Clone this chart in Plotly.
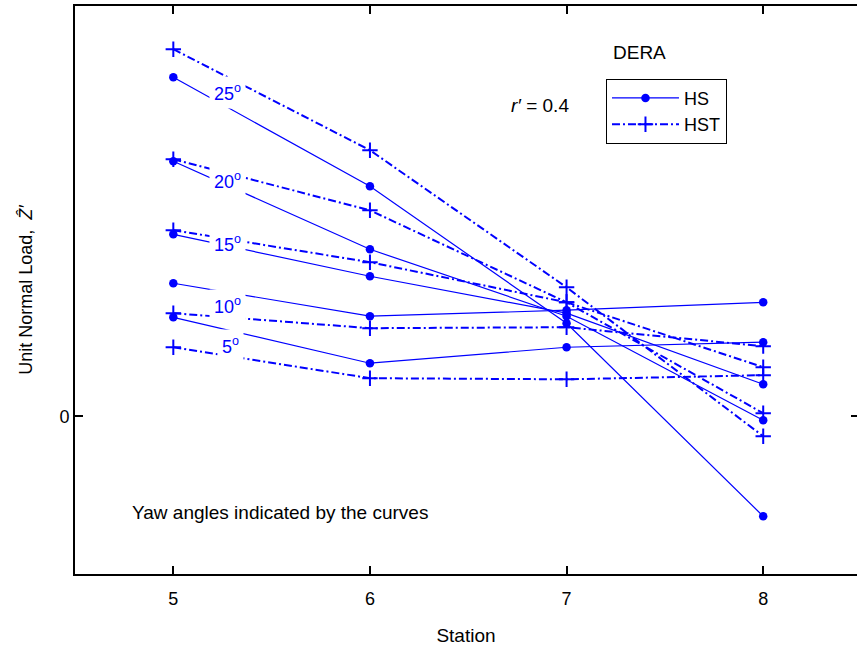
import plotly.graph_objects as go

stations = [5, 6, 7, 8]
angles = [25, 20, 15, 10, 5]

hs_25 = [2.148, 1.458, 0.589, -0.634]
hs_20 = [1.616, 1.058, 0.634, -0.025]
hs_15 = [1.153, 0.887, 0.653, 0.203]
hs_10 = [0.843, 0.634, 0.672, 0.722]
hs_5 = [0.627, 0.336, 0.437, 0.469]

hst_25 = [2.326, 1.686, 0.817, -0.127]
hst_20 = [1.629, 1.305, 0.722, 0.019]
hst_15 = [1.179, 0.976, 0.722, 0.311]
hst_10 = [0.653, 0.558, 0.564, 0.444]
hst_5 = [0.437, 0.241, 0.234, 0.260]

hs_series = [hs_25, hs_20, hs_15, hs_10, hs_5]
hst_series = [hst_25, hst_20, hst_15, hst_10, hst_5]

# label anchor positions for yaw-angle annotations (layout only)
label_pos = [(5.278, 2.053), (5.278, 1.496), (5.273, 1.096), (5.273, 0.703), (5.293, 0.450)]

BLUE = "#0000ff"
FONT = "Liberation Sans, Arial, sans-serif"

fig = go.Figure()
for i, ys in enumerate(hs_series):
    fig.add_trace(go.Scatter(
        x=stations, y=ys, mode="lines+markers", name="HS",
        showlegend=(i == 0),
        line=dict(color=BLUE, width=1.2),
        marker=dict(symbol="circle", size=8.5, color=BLUE),
    ))
for i, ys in enumerate(hst_series):
    fig.add_trace(go.Scatter(
        x=stations, y=ys, mode="lines+markers", name="HST",
        showlegend=(i == 0),
        line=dict(color=BLUE, width=2, dash="8px,3px,2px,3px"),
        marker=dict(symbol="cross-thin", size=11, color=BLUE,
                    line=dict(color=BLUE, width=2)),
    ))

annotations = []
for a, (lx, ly) in zip(angles, label_pos):
    annotations.append(dict(
        x=lx, y=ly, xref="x", yref="y", text=f"{a}<sup>o</sup>",
        xanchor="center", yanchor="middle",
        showarrow=False, font=dict(family=FONT, size=18, color=BLUE),
        bgcolor="white", borderpad=4,
    ))
annotations += [
    dict(x=0.7225, y=0.919, xref="paper", yref="paper", text="DERA",
         xanchor="center", yanchor="middle",
         showarrow=False, font=dict(family=FONT, size=19, color="black")),
    dict(x=0.595, y=0.825, xref="paper", yref="paper",
         text="<i>r\u2032</i> = 0.4", xanchor="center", yanchor="middle",
         showarrow=False, font=dict(family=FONT, size=19, color="black")),
    dict(x=0.0703, y=0.109, xref="paper", yref="paper", xanchor="left", yanchor="middle",
         text="Yaw angles indicated by the curves",
         showarrow=False, font=dict(family=FONT, size=19, color="black")),
]

fig.update_layout(
    width=857, height=651,
    margin=dict(l=75, r=0, t=6, b=77),
    plot_bgcolor="white", paper_bgcolor="white",
    font=dict(family=FONT, size=18, color="black"),
    xaxis=dict(
        range=[4.5, 8.477], tickvals=stations, ticktext=[str(s) for s in stations],
        showgrid=False, zeroline=False, showline=True, linecolor="black", linewidth=2,
        mirror="ticks", ticks="inside", ticklen=8, tickwidth=1.5, tickcolor="black",
        tickfont=dict(family=FONT, size=18), ticklabelstandoff=7,
        title=dict(text="Station", standoff=21, font=dict(family=FONT, size=19)),
    ),
    yaxis=dict(
        range=[-1.0, 2.6], tickvals=[0], ticktext=["0"],
        showgrid=False, zeroline=False, showline=True, linecolor="black", linewidth=2,
        ticks="inside", ticklen=8, tickwidth=1.5, tickcolor="black",
        tickfont=dict(family=FONT, size=18),
        title=dict(text="Unit Normal Load,  <i>\u1e90\u2032</i>", standoff=22,
                   font=dict(family=FONT, size=18)),
    ),
    yaxis2=dict(
        range=[-1.0, 2.6], overlaying="y", side="right", tickvals=[0],
        showticklabels=False, showgrid=False, zeroline=False, showline=False,
        ticks="inside", ticklen=6, tickwidth=1.5, tickcolor="black",
    ),
    legend=dict(
        x=0.679, y=0.872, xanchor="left", yanchor="top",
        bordercolor="black", borderwidth=1, bgcolor="white",
        font=dict(family=FONT, size=18), itemwidth=67,
        tracegroupgap=0,
    ),
    annotations=annotations,
)
fig.add_trace(go.Scatter(x=[None], y=[None], yaxis="y2", showlegend=False, hoverinfo="skip"))

fig.write_html("out.html")
